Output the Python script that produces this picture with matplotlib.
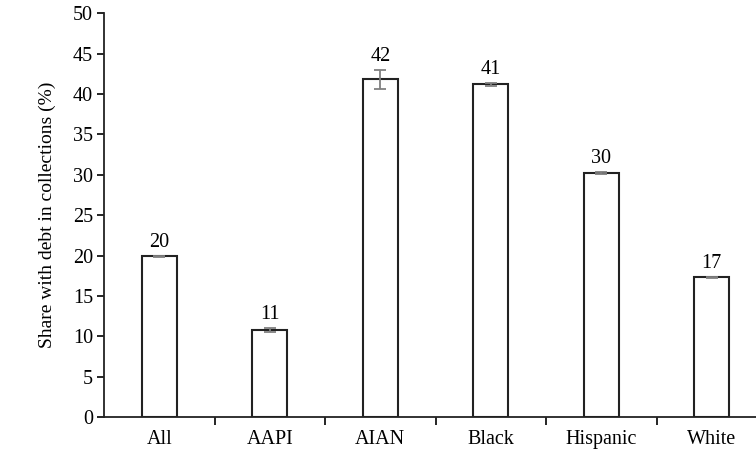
import matplotlib
matplotlib.use("Agg")
import matplotlib.pyplot as plt
import numpy as np

groups = ["All", "AAPI", "AIAN", "Black", "Hispanic", "White"]
share = [19.9, 10.8, 41.8, 41.2, 30.2, 17.3]
err = [0.1, 0.3, 1.2, 0.2, 0.15, 0.1]

plt.rcParams['font.family'] = ['Liberation Serif', 'DejaVu Serif']

fig = plt.figure(figsize=(7.56, 4.57), dpi=100)
ax = fig.add_axes([0.1376, 0.0869, 0.8624, 0.8842])

x = np.arange(len(groups))
ax.bar(x, share, width=0.32, color='white', edgecolor='#222222', linewidth=1.5,
       yerr=err, ecolor='#808080', capsize=4, error_kw={'elinewidth': 1.3, 'capthick': 1.3})

for xi, v, e in zip(x, share, err):
    ax.text(xi, v + e + 0.5, f"{v:.0f}", ha='center', va='bottom', fontsize=14.5)

ax.set_xlim(-0.5, 5.4)
ax.set_ylim(0, 50)
ax.set_yticks(range(0, 51, 5))
ax.set_xticks(x)
ax.set_xticklabels(groups, fontsize=14.5)
ax.set_xticks(x[:-1] + 0.5, minor=True)
ax.tick_params(axis='x', which='major', length=0, pad=9)
ax.tick_params(axis='x', which='minor', length=6, width=1.2, direction='out')
ax.tick_params(axis='y', labelsize=14.5, length=5, width=1.2, direction='out', pad=3)
ax.set_ylabel("Share with debt in collections (%)", fontsize=14, labelpad=12)

for s in ['top', 'right']:
    ax.spines[s].set_visible(False)
for s in ['left', 'bottom']:
    ax.spines[s].set_linewidth(1.3)
    ax.spines[s].set_color('#222222')

fig.savefig("out.png", dpi=100)
